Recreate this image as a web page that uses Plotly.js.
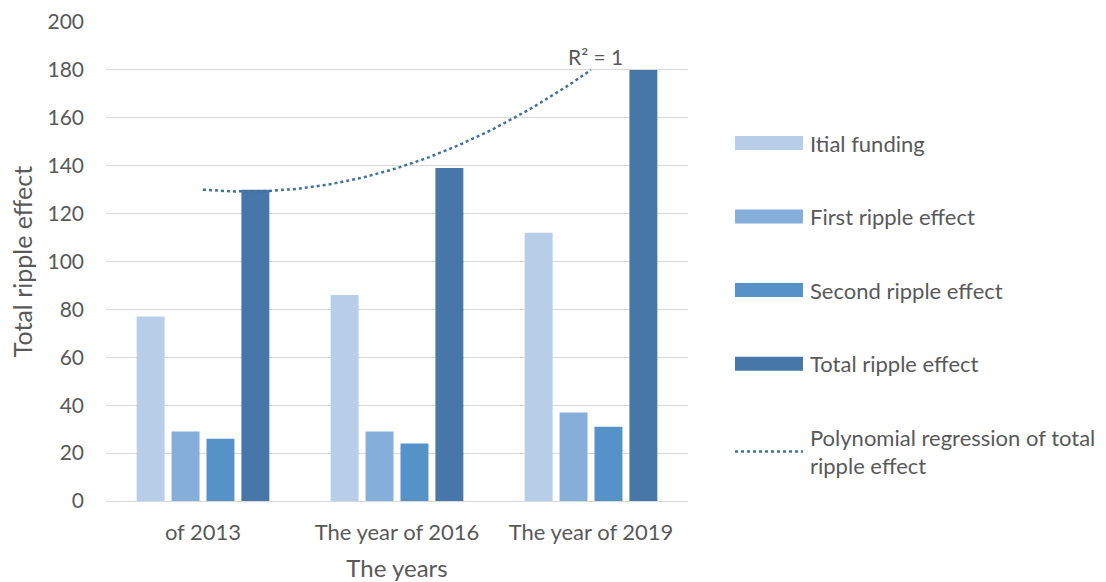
<!DOCTYPE html>
<html>
<head>
<meta charset="utf-8">
<script src="https://cdn.plot.ly/plotly-3.0.1.min.js"></script>
<style>html,body{margin:0;padding:0;background:#fff;}#chart{width:1106px;height:582px;}</style>
</head>
<body>
<div id="chart"></div>
<script>
const categories = ["of 2013", "The year of 2016", "The year of 2019"];
const seriesNames = ["Itial funding", "First ripple effect", "Second ripple effect", "Total ripple effect"];
const itialFunding = [77, 86, 112];
const firstRipple = [29, 29, 37];
const secondRipple = [26, 24, 31];
const totalRipple = [130, 139, 180];
const trendName = "Polynomial regression of total<br>ripple effect";
const yTicks = [0, 20, 40, 60, 80, 100, 120, 140, 160, 180, 200];

const colors = ["#B7CDE8", "#85AEDB", "#5592C8", "#4677A8"];
const trendColor = "#41719C";
const textColor = "#595959";
const font = "Lato, 'Open Sans', sans-serif";

const xIdx = categories.map((c, i) => i);
const allSeries = [itialFunding, firstRipple, secondRipple, totalRipple];

const traces = allSeries.map((vals, k) => ({
  type: "bar",
  name: seriesNames[k],
  x: xIdx,
  y: vals,
  marker: {color: colors[k]},
  legendgroup: "g" + k,
  hoverinfo: "y"
}));

// Quadratic least-squares regression of the total series (order 2)
function polyfit2(xs, ys) {
  let n = xs.length, s = [0,0,0,0,0], t = [0,0,0];
  for (let i = 0; i < n; i++) {
    const x = xs[i] + 1, y = ys[i];
    for (let p = 0; p < 5; p++) s[p] += Math.pow(x, p);
    for (let p = 0; p < 3; p++) t[p] += y * Math.pow(x, p);
  }
  const A = [[s[0], s[1], s[2], t[0]], [s[1], s[2], s[3], t[1]], [s[2], s[3], s[4], t[2]]];
  for (let i = 0; i < 3; i++) {
    for (let j = i + 1; j < 3; j++) {
      const f = A[j][i] / A[i][i];
      for (let k = i; k < 4; k++) A[j][k] -= f * A[i][k];
    }
  }
  const c = [0,0,0];
  for (let i = 2; i >= 0; i--) {
    let v = A[i][3];
    for (let k = i + 1; k < 3; k++) v -= A[i][k] * c[k];
    c[i] = v / A[i][i];
  }
  return c;
}
const coef = polyfit2(xIdx, totalRipple);
const tx = [], ty = [];
for (let i = 0; i <= 60; i++) {
  const x = i / 30;
  tx.push(x);
  const X = x + 1;
  ty.push(coef[0] + coef[1] * X + coef[2] * X * X);
}
traces.push({
  type: "scatter",
  mode: "lines",
  name: trendName,
  x: tx,
  y: ty,
  line: {color: trendColor, width: 2.5, dash: "dot"},
  legendgroup: "g4",
  hoverinfo: "skip"
});

const layout = {
  width: 1106,
  height: 582,
  margin: {l: 106, r: 418, t: 22, b: 81, autoexpand: false},
  paper_bgcolor: "#ffffff",
  plot_bgcolor: "#ffffff",
  font: {family: font, size: 22, color: textColor},
  barmode: "group",
  bargap: 0.28,
  bargroupgap: 0.2,
  showlegend: true,
  legend: {
    x: 1.0687, xanchor: "left",
    y: 0.791, yanchor: "top",
    font: {family: font, size: 22, color: textColor},
    itemwidth: 72,
    tracegroupgap: 42,
    traceorder: "grouped",
    bgcolor: "rgba(0,0,0,0)"
  },
  xaxis: {
    range: [-0.5, 2.5],
    tickmode: "array",
    tickvals: xIdx,
    ticktext: categories,
    showgrid: false,
    zeroline: false,
    showline: false,
    ticks: "",
    ticklabelstandoff: 16,
    tickfont: {family: font, size: 22, color: textColor},
    title: {text: "The years", font: {family: font, size: 24, color: textColor}, standoff: 17}
  },
  yaxis: {
    range: [0, 200],
    tickmode: "array",
    tickvals: yTicks,
    showgrid: true,
    gridcolor: "#D9D9D9",
    gridwidth: 1,
    zeroline: true,
    zerolinecolor: "#D9D9D9",
    zerolinewidth: 1,
    showline: false,
    ticks: "",
    ticklabelstandoff: 21,
    tickfont: {family: font, size: 21, color: textColor},
    title: {text: "Total ripple effect", font: {family: font, size: 25, color: textColor}, standoff: 7}
  },
  annotations: [{
    x: xIdx[2], y: totalRipple[2],
    xref: "x", yref: "y",
    text: "R² = 1",
    showarrow: false,
    yanchor: "bottom",
    yshift: -1,
    xshift: 4,
    font: {family: font, size: 21, color: textColor}
  }]
};

Plotly.newPlot("chart", traces, layout, {displayModeBar: false, staticPlot: true}).then(function () {
  // widen legend swatches to match the reference
  document.querySelectorAll(".legend .traces path").forEach(function (p) {
    const d = p.getAttribute("d") || "";
    if (/^M5,0h/.test(d) || /h30$/.test(d)) {
      p.setAttribute("d", "M7,0h68");
    } else if (d.indexOf("H") >= 0 && d.indexOf("V") >= 0) {
      p.setAttribute("d", "M-34,7H34V-7H-34Z");
    }
  });
});
</script>
</body>
</html>
